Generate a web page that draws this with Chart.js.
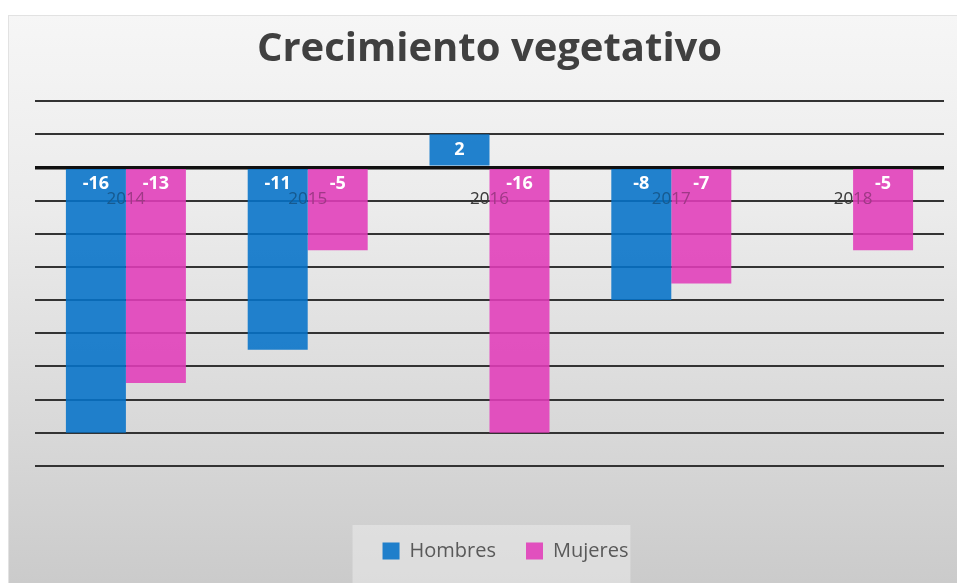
<!DOCTYPE html>
<html>
<head>
<meta charset="utf-8">
<script src="https://cdn.jsdelivr.net/npm/chart.js@4.4.0/dist/chart.umd.min.js"></script>
<style>
  html, body { margin: 0; padding: 0; background: #fff; }
  #wrap { width: 957px; height: 583px; }
</style>
</head>
<body>
<div id="wrap"><canvas id="vegChart" width="957" height="583"></canvas></div>
<script>
const years = ['2014', '2015', '2016', '2017', '2018'];
const hombres = [-16, -11, 2, -8, 0];
const mujeres = [-13, -5, -16, -7, -5];
const yMin = -18;
const yMax = 4;
const yStep = 2;

// background gradient + legend box
const backdrop = {
    id: 'backdrop',
    afterLayout(chart) {
        // legend sits a bit right of centre in the original
        if (chart.legend) {
            chart.legend.left += 16;
            chart.legend.right += 16;
        }
    },
    beforeDraw(chart) {
        const c = chart.ctx;
        const w = chart.width, h = chart.height;
        c.save();
        c.fillStyle = '#ffffff';
        c.fillRect(0, 0, w, h);
        const g = c.createLinearGradient(0, 15, 0, h);
        g.addColorStop(0, '#f6f6f6');
        g.addColorStop(0.35, '#ebebeb');
        g.addColorStop(1, '#cbcbcb');
        c.fillStyle = g;
        c.fillRect(8, 15, w - 8, h - 15);
        c.strokeStyle = '#e2e2e2';
        c.lineWidth = 1;
        c.strokeRect(8.5, 15.5, w, h);
        const boxes = chart.legend && chart.legend.legendHitBoxes;
        if (boxes && boxes.length) {
            const left = Math.min(...boxes.map(b => b.left)) - 30;
            const right = Math.max(...boxes.map(b => b.left + b.width)) + 2;
            const top = boxes[0].top - 16;
            c.fillStyle = 'rgba(235,235,235,0.55)';
            c.fillRect(left, top, right - left, h - top);
        }
        c.restore();
    }
};

function drawYears(chart, color) {
    const c = chart.ctx;
    const x = chart.scales.x, y = chart.scales.y;
    const y0 = y.getPixelForValue(0);
    c.save();
    c.font = '17px "Open Sans"';
    c.fillStyle = color;
    c.textAlign = 'center';
    c.textBaseline = 'middle';
    years.forEach((yr, i) => {
        c.fillText(yr, x.getPixelForValue(i), y0 + 32);
    });
    c.restore();
}

// year labels along the zero line; faint again over the bars
const yearLabels = {
    id: 'yearLabels',
    beforeDatasetsDraw(chart) { drawYears(chart, '#404040'); },
    afterDatasetsDraw(chart) { drawYears(chart, 'rgba(50,50,50,0.3)'); }
};

// values just inside the base of each bar
const valueLabels = {
    id: 'valueLabels',
    afterDatasetsDraw(chart) {
        const c = chart.ctx;
        const y0 = chart.scales.y.getPixelForValue(0);
        c.save();
        c.font = 'bold 18px "Open Sans"';
        c.fillStyle = '#ffffff';
        c.textAlign = 'center';
        c.textBaseline = 'middle';
        chart.data.datasets.forEach((ds, di) => {
            chart.getDatasetMeta(di).data.forEach((bar, i) => {
                const v = ds.data[i];
                if (v === 0) return;
                const ty = v < 0 ? y0 + 17 : y0 - 17;
                c.fillText(String(v), bar.x, ty);
            });
        });
        c.restore();
    }
};

const ctx = document.getElementById('vegChart').getContext('2d');

const vegChart = new Chart(ctx, {
    type: 'bar',
    data: {
        labels: years,
        datasets: [
            {
                label: 'Hombres',
                data: hombres,
                backgroundColor: 'rgba(4,114,200,0.88)',
                borderWidth: 0
            },
            {
                label: 'Mujeres',
                data: mujeres,
                backgroundColor: 'rgba(225,60,185,0.88)',
                borderWidth: 0
            }
        ]
    },
    options: {
        responsive: false,
        animation: false,
        datasets: {
            bar: { categoryPercentage: 0.66, barPercentage: 1 }
        },
        layout: {
            padding: { left: 35, right: 13, top: 15, bottom: 12 }
        },
        scales: {
            x: {
                grid: { display: false },
                border: { display: false },
                ticks: { display: false },
                afterFit: (scale) => { scale.height = 45; }
            },
            y: {
                min: yMin,
                max: yMax,
                ticks: { display: false, stepSize: yStep },
                border: { display: false },
                grid: {
                    drawTicks: false,
                    color: (c) => c.tick && c.tick.value === 0 ? '#111111' : '#333333',
                    lineWidth: (c) => c.tick && c.tick.value === 0 ? 3.5 : 2
                },
                afterFit: (scale) => { scale.width = 0; }
            }
        },
        plugins: {
            title: {
                display: true,
                text: 'Crecimiento vegetativo',
                color: '#404040',
                font: { family: '"Open Sans"', size: 40, weight: 'bold' },
                padding: { top: 11, bottom: 27 }
            },
            legend: {
                position: 'bottom',
                labels: {
                    boxWidth: 17,
                    boxHeight: 17,
                    padding: 30,
                    color: '#595959',
                    font: { family: '"Open Sans"', size: 20 }
                }
            },
            tooltip: { enabled: false }
        }
    },
    plugins: [backdrop, yearLabels, valueLabels]
});
</script>
</body>
</html>
